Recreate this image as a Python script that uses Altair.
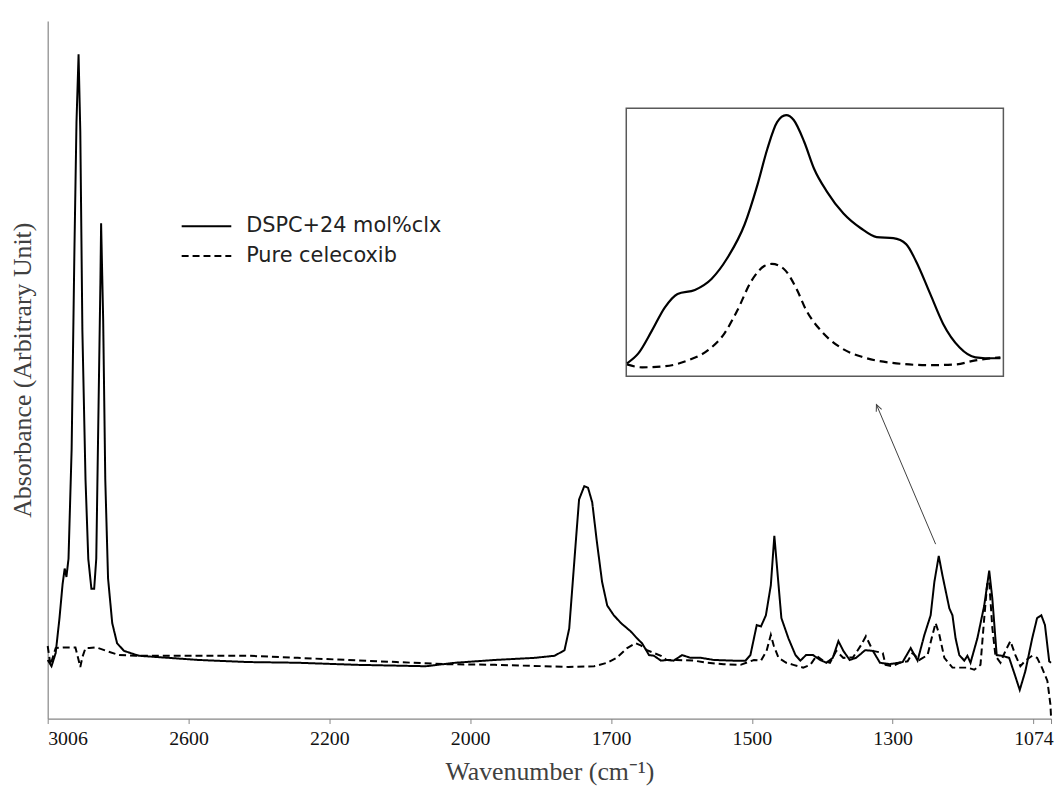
import altair as alt
import pandas as pd

# ---------------- data ----------------
series_names = ["DSPC+24 mol%clx", "Pure celecoxib"]

# DSPC + 24 mol% celecoxib (solid line): wavenumber (cm-1), absorbance (arb.)
dspc_wn = [3006, 2995, 2983, 2972, 2963, 2957, 2952, 2946, 2937, 2929, 2923, 2917, 2912, 2906,
           2897, 2889, 2880, 2872, 2866, 2860, 2854, 2852, 2846, 2840, 2832, 2820, 2806, 2786,
           2743, 2657, 2572, 2431, 2290, 2161, 2063, 2021, 1947, 1863, 1820, 1799, 1789, 1782,
           1774, 1768, 1757, 1749, 1740, 1730, 1719, 1708, 1696, 1686, 1672, 1663, 1656, 1650,
           1646, 1639, 1629, 1621, 1611, 1599, 1587, 1572, 1554, 1526, 1509, 1502, 1493, 1487,
           1480, 1473, 1468, 1462, 1458, 1448, 1438, 1431, 1423, 1413, 1403, 1394, 1385, 1377,
           1370, 1361, 1352, 1339, 1328, 1318, 1304, 1284, 1271, 1260, 1249, 1239, 1233, 1226,
           1220, 1209, 1204, 1199, 1193, 1185, 1180, 1175, 1164, 1153, 1145, 1140, 1133, 1124,
           1113, 1104, 1096, 1087, 1076, 1068, 1061, 1055, 1048, 1045]
dspc_abs = [8.4, 7.5, 9.4, 14.4, 19.3, 21.5, 20.3, 22.9, 38.6, 67.0, 85.5, 95.2, 84.1, 55.6,
            34.3, 22.9, 18.6, 18.6, 22.9, 42.8, 62.7, 71.0, 57.0, 34.3, 20.1, 13.7, 10.8, 9.7,
            9.0, 8.7, 8.4, 8.1, 8.0, 7.7, 7.5, 8.0, 8.4, 8.7, 9.0, 9.8, 12.9, 19.1,
            26.2, 31.4, 33.3, 33.1, 31.0, 25.3, 19.6, 16.2, 14.8, 13.7, 12.5, 11.5, 10.8, 9.8,
            9.1, 9.0, 8.3, 8.4, 8.3, 9.1, 8.7, 8.7, 8.4, 8.3, 8.3, 9.1, 13.4, 13.2,
            14.8, 19.1, 26.2, 19.1, 14.4, 11.5, 9.1, 8.3, 9.1, 9.1, 8.4, 8.0, 8.7, 11.1,
            9.7, 8.4, 8.7, 9.8, 9.7, 8.0, 7.8, 8.1, 10.1, 8.3, 12.0, 14.8, 19.6, 23.3,
            20.5, 15.8, 14.8, 11.5, 9.1, 8.3, 9.0, 8.0, 11.5, 16.2, 21.2, 17.2, 9.1, 9.0,
            8.7, 6.3, 4.1, 6.8, 11.5, 14.4, 14.8, 13.4, 8.2, 8.0]

# Pure celecoxib (dashed line)
clx_wn = [3006, 2998, 2983, 2957, 2937, 2926, 2920, 2912, 2906, 2897, 2886, 2866, 2837, 2800,
          2752, 2666, 2572, 2431, 2290, 2105, 2035, 1947, 1842, 1791, 1736, 1708, 1692, 1677,
          1665, 1658, 1649, 1639, 1629, 1621, 1607, 1582, 1564, 1540, 1516, 1497, 1487, 1479,
          1473, 1469, 1462, 1451, 1441, 1427, 1417, 1408, 1399, 1389, 1380, 1370, 1356, 1345,
          1338, 1328, 1314, 1310, 1300, 1289, 1276, 1268, 1257, 1244, 1236, 1231, 1225, 1217,
          1204, 1193, 1180, 1169, 1159, 1153, 1148, 1145, 1140, 1135, 1127, 1119, 1111, 1103,
          1095, 1087, 1076, 1068, 1060, 1051, 1046, 1045]
clx_abs = [10.4, 7.7, 10.1, 10.2, 10.2, 10.2, 9.0, 7.4, 8.8, 10.1, 10.1, 10.2, 9.7, 9.1,
           9.0, 9.0, 9.0, 9.0, 8.7, 8.1, 7.8, 7.7, 7.5, 7.4, 7.5, 8.0, 8.7, 10.1,
           10.8, 10.5, 9.8, 9.4, 9.0, 8.4, 8.4, 8.3, 8.0, 7.8, 7.7, 8.4, 8.3, 9.7,
           12.0, 10.5, 8.7, 8.0, 7.7, 7.3, 7.7, 9.0, 8.3, 8.0, 9.7, 8.7, 8.8, 10.5,
           11.8, 9.7, 9.4, 7.7, 7.5, 8.0, 8.2, 9.4, 8.4, 9.1, 12.0, 13.7, 12.0, 8.7,
           7.3, 7.3, 7.3, 7.0, 7.7, 14.4, 19.6, 19.6, 13.0, 9.0, 8.0, 9.7, 11.1, 9.1,
           7.5, 8.3, 9.0, 8.7, 7.3, 5.4, 2.0, 0.3]

# Inset: enlarged ~1235 cm-1 band
inset_dspc_wn = [1259.9, 1258.4, 1256.6, 1254.9, 1253.2, 1250.9, 1248.7, 1246.6, 1244.3, 1242.6,
                 1241.3, 1240.0, 1238.8, 1237.8, 1236.4, 1235.1, 1233.4, 1231.2, 1228.9, 1226.8,
                 1224.6, 1222.9, 1221.6, 1219.7, 1218.0, 1215.8, 1213.7, 1212.4, 1210.4]
inset_dspc_abs = [4.8, 8.5, 17.0, 25.6, 30.7, 32.2, 36.3, 44.1, 56.7, 71.5,
                  84.8, 94.8, 97.4, 95.6, 87.4, 77.4, 68.9, 60.7, 55.2, 51.9,
                  51.5, 49.3, 43.0, 30.7, 19.6, 10.7, 7.0, 6.7, 6.7]
inset_clx_wn = [1259.9, 1257.9, 1254.9, 1251.8, 1249.2, 1247.0, 1245.3, 1243.4, 1241.7, 1240.7,
                1239.1, 1237.5, 1236.1, 1234.2, 1231.6, 1228.5, 1224.2, 1219.7, 1216.3, 1213.7,
                1210.4]
inset_clx_abs = [4.4, 3.3, 3.7, 5.9, 9.6, 15.9, 24.4, 35.6, 41.1, 41.9,
                 40.0, 33.0, 24.4, 17.0, 10.7, 7.0, 4.8, 4.1, 4.4, 5.9,
                 7.0]
inset_box_wn = [1260, 1210]
inset_box_abs = [0, 100]

# Arrow from the 1235 band to the inset
arrow_wn = [1231, 1323]
arrow_abs = [25.0, 45.0]

# Category-style axis labels of the original (Excel) chart
x_tick_values = [3006, 2600, 2200, 2000, 1700, 1500, 1300, 1074]
x_axis_end = 1045

# ---------------- tables ----------------
main_df = pd.concat([
    pd.DataFrame({"wn": dspc_wn, "abs": dspc_abs, "series": series_names[0]}),
    pd.DataFrame({"wn": clx_wn, "abs": clx_abs, "series": series_names[1]}),
], ignore_index=True)
arrow_df = pd.DataFrame({"wn": arrow_wn, "abs": arrow_abs})
tip_df = arrow_df.iloc[[1]]
inset_solid_df = pd.DataFrame({"iwn": inset_dspc_wn, "iabs": inset_dspc_abs})
inset_dash_df = pd.DataFrame({"iwn": inset_clx_wn, "iabs": inset_clx_abs})
box_df = pd.DataFrame({"iwn": [inset_box_wn[0]], "iwn2": [inset_box_wn[1]],
                       "iabs": [inset_box_abs[0]], "iabs2": [inset_box_abs[1]]})

W, H = 1011, 703
# piecewise (category-like) x axis: labels equally spaced
step = 141.9
x_range = [round(i * step, 1) for i in range(len(x_tick_values))] + [W]
x_scale = alt.Scale(domain=x_tick_values + [x_axis_end], range=x_range, zero=False, nice=False)
y_scale = alt.Scale(domain=[0, 100], zero=False, nice=False)

serif = "Liberation Serif"

lines = alt.Chart(main_df).mark_line(color="black", strokeWidth=2).encode(
    x=alt.X("wn:Q", scale=x_scale,
            axis=alt.Axis(values=x_tick_values + [x_axis_end], format="d", grid=False,
                          labelExpr=f"datum.value == {x_axis_end} ? '' : datum.label",
                          title="Wavenumber (cm⁻¹)",
                          tickSize=5, labelPadding=5, titlePadding=10)),
    y=alt.Y("abs:Q", scale=y_scale,
            axis=alt.Axis(labels=False, ticks=False, grid=False,
                          title="Absorbance (Arbitrary Unit)", titlePadding=12)),
    strokeDash=alt.StrokeDash(
        "series:N",
        scale=alt.Scale(domain=series_names, range=[[1, 0], [7, 4]]),
        legend=alt.Legend(orient="none", legendX=134, legendY=196, title=None,
                          symbolType="stroke", symbolSize=2500, symbolStrokeWidth=2,
                          symbolStrokeColor="black", clipHeight=22, rowPadding=8,
                          labelOffset=14, labelFont="DejaVu Sans", labelFontSize=21,
                          labelColor="#222222", labelLimit=0, padding=0),
    ),
)

arrow = alt.Chart(arrow_df).mark_line(color="#404040", strokeWidth=1).encode(
    x=alt.X("wn:Q"), y=alt.Y("abs:Q"))
tip = alt.Chart(tip_df).mark_point(
    shape="M-0.5,1.1L0,0L0.5,1.1", angle=337, size=140, filled=False,
    stroke="#404040", strokeWidth=1, opacity=1).encode(x="wn:Q", y="abs:Q")

main = alt.layer(lines, arrow, tip)

ix = alt.Scale(domain=inset_box_wn, range=[583, 963], zero=False, nice=False)
iy = alt.Scale(domain=inset_box_abs, range=[358, 88], zero=False, nice=False)

box = alt.Chart(box_df).mark_rect(filled=False, stroke="#595959", strokeWidth=1.5).encode(
    x=alt.X("iwn:Q", scale=ix, axis=None), x2="iwn2:Q",
    y=alt.Y("iabs:Q", scale=iy, axis=None), y2="iabs2:Q")
inset_solid = alt.Chart(inset_solid_df).mark_line(
    color="black", strokeWidth=2.2, interpolate="monotone").encode(
    x=alt.X("iwn:Q", scale=ix, axis=None), y=alt.Y("iabs:Q", scale=iy, axis=None))
inset_dash = alt.Chart(inset_dash_df).mark_line(
    color="black", strokeWidth=2.2, strokeDash=[8, 5], interpolate="monotone").encode(
    x=alt.X("iwn:Q", scale=ix, axis=None), y=alt.Y("iabs:Q", scale=iy, axis=None))

inset = alt.layer(box, inset_solid, inset_dash)

chart = alt.layer(main, inset).resolve_scale(x="independent", y="independent").properties(
    width=W, height=H, autosize="none",
    padding={"left": 40, "top": 10, "right": 3, "bottom": 70},
).configure_view(stroke=None).configure_axis(
    domainColor="#868686", domainWidth=1.2, tickColor="#868686",
    labelFont=serif, labelFontSize=20, labelColor="#111111",
    titleFont=serif, titleFontSize=26, titleFontWeight="normal", titleColor="#404040",
)

chart.save("out.html", embed_options={"renderer": "svg", "actions": False})
